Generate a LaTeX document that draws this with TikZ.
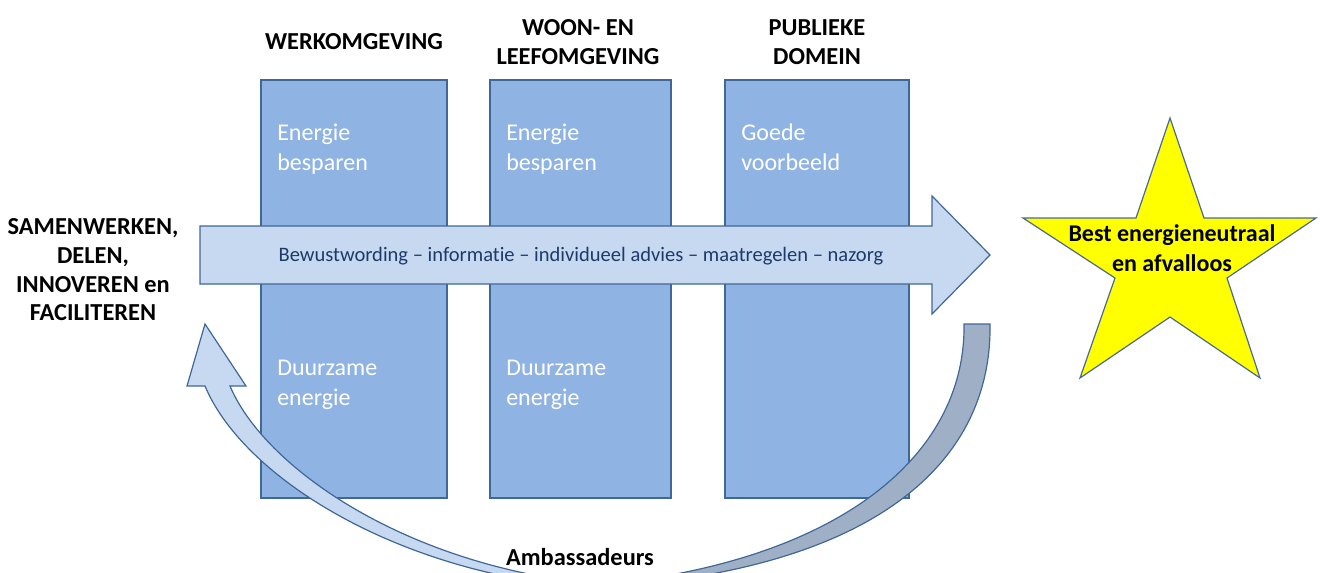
\documentclass[tikz,border=0pt]{standalone}
\usepackage{fontspec}
\setmainfont[Ligatures=NoCommon]{Carlito}
\definecolor{boxfill}{HTML}{8FB3E2}
\definecolor{edge}{HTML}{3F6797}
\definecolor{lightfill}{HTML}{C6D9F1}
\definecolor{darkband}{HTML}{9FAFC5}
\definecolor{navytext}{HTML}{1F3A68}
\definecolor{staryellow}{HTML}{FFFF00}
\definecolor{staredge}{HTML}{4A6A96}
\tikzset{
  colbox/.style={draw=edge, fill=boxfill, line width=0.9pt},
  header/.style={font=\fontsize{18.3}{21.5}\selectfont\bfseries, align=center, inner sep=0pt},
  boxtext/.style={font=\fontsize{18}{22.3}\selectfont, text=white, align=left, inner sep=0pt, anchor=north west},
  bigarrow/.style={draw=edge, fill=lightfill, line width=0.9pt, line join=miter},
  darkarrow/.style={draw=edge, fill=darkband, line width=0.9pt},
  startext/.style={font=\fontsize{18}{23}\selectfont\bfseries, align=center, inner sep=0pt},
}
\begin{document}
\begin{tikzpicture}[x=0.75pt, y=-0.75pt]
\useasboundingbox (0,0) rectangle (1320,572);
\clip (0,0) rectangle (1320,572);
% column boxes
\draw[colbox] (261,80) rectangle (447,498);
\draw[colbox] (490,80) rectangle (671,498);
\draw[colbox] (725,80) rectangle (909,498);
% headers
\node[header] (h1) at (354,42) {WERKOMGEVING};
\node[header] (h2) at (578,42) {WOON- EN\\LEEFOMGEVING};
\node[header] (h3) at (817,42) {PUBLIEKE\\DOMEIN};
% box texts
\node[boxtext] (t1a) at (277,124) {Energie\\besparen};
\node[boxtext] (t2a) at (506,124) {Energie\\besparen};
\node[boxtext] (t3a) at (741,124) {Goede\\voorbeeld};
\node[boxtext] (t1b) at (277,360) {Duurzame\\energie};
\node[boxtext] (t2b) at (506,360) {Duurzame\\energie};
% horizontal arrow
\draw[bigarrow] (200,226) -- (932,226) -- (932,196) -- (990,255) -- (932,314) -- (932,284) -- (200,284) -- cycle;
\node[font=\fontsize{15.4}{17}\selectfont, text=navytext, inner sep=0pt] (flow) at (581,256)
  {Bewustwording -- informatie -- individueel advies -- maatregelen -- nazorg};
% left text
\node[header] (left) at (93,270) {SAMENWERKEN,\\DELEN,\\INNOVEREN en\\FACILITEREN};
% dark back band of curved arrow
\draw[darkarrow] (964,324) -- (990,324)
  .. controls (992,460) and (880,560) .. (640,584)
  -- (640,580)
  .. controls (850,550) and (966,450) .. (964,324) -- cycle;
% light front band with arrowhead
\draw[bigarrow] (550,584)
  .. controls (375,560) and (240,470) .. (205,386)
  -- (187,386) -- (205,324) -- (246,386) -- (230,386)
  .. controls (262,462) and (385,550) .. (550,578) -- cycle;
% bottom label
\node[header] (amb) at (580,557) {Ambassadeurs};
% star
\draw[draw=staredge, fill=staryellow, line width=0.9pt, line join=miter]
  (1170,118) -- (1204,218) -- (1316,218) -- (1227,278) -- (1260,378)
  -- (1170,317) -- (1080,378) -- (1115,278) -- (1023,218) -- (1136,218) -- cycle;
\node[startext] (goal) at (1172,248) {Best energieneutraal\\en afvalloos};
\end{tikzpicture}
\end{document}
